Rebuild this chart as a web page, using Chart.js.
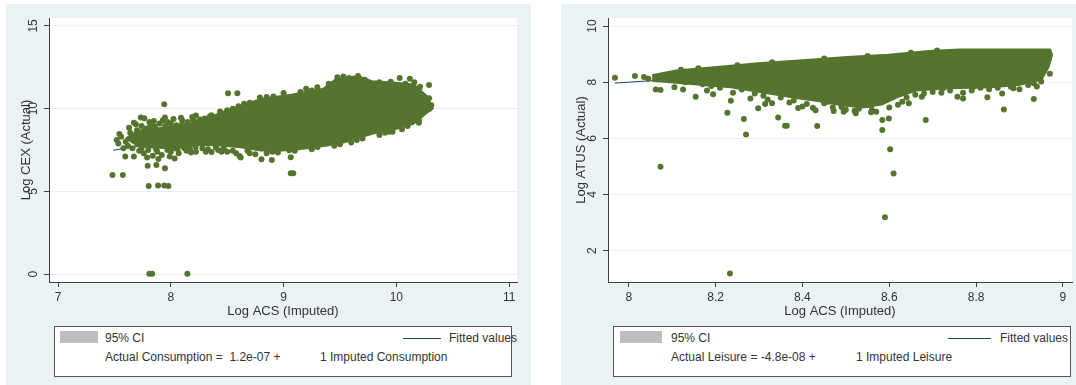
<!DOCTYPE html>
<html>
<head>
<meta charset="utf-8">
<script src="https://cdn.jsdelivr.net/npm/chart.js@4.4.1/dist/chart.umd.min.js"></script>
<style>
  body { margin:0; width:1076px; height:385px; background:#fff; position:relative; overflow:hidden;
         font-family:"Liberation Sans", Arial, sans-serif; }
  .panel { position:absolute; top:4px; height:381px; background:#eaf2f3; }
  canvas { position:absolute; top:4px; }
  .leg { position:absolute; top:326px; height:49px; border:1px solid #555; background:#fff; box-sizing:content-box; }
  .txt { position:absolute; font-size:12px; line-height:14px; color:#333; white-space:pre; }
  .sw { position:absolute; top:331px; height:12px; background:#bebebe; }
  .ln { position:absolute; top:338px; height:1px; background:#1a476f; }
</style>
</head>
<body>
<div class="panel" style="left:6px;width:525px"></div>
<div class="panel" style="left:561px;width:515px"></div>
<canvas id="consChart" width="525" height="320" style="left:6px"></canvas>
<canvas id="leisChart" width="515" height="320" style="left:561px"></canvas>

<div class="leg" style="left:54px;width:456px"></div>
<div class="sw" style="left:60px;width:38px"></div>
<div class="txt" style="left:105px;top:331px">95% CI</div>
<div class="ln" style="left:403px;width:38px"></div>
<div class="txt" style="left:449px;top:331px">Fitted values</div>
<div class="txt" id="consEq1" style="left:105px;top:350px"></div>
<div class="txt" id="consEq2" style="left:320px;top:350px"></div>

<div class="leg" style="left:613px;width:456px"></div>
<div class="sw" style="left:620px;width:42px"></div>
<div class="txt" style="left:671px;top:331px">95% CI</div>
<div class="ln" style="left:948px;width:43px"></div>
<div class="txt" style="left:1000px;top:331px">Fitted values</div>
<div class="txt" id="leisEq1" style="left:671px;top:350px"></div>
<div class="txt" id="leisEq2" style="left:856px;top:350px"></div>

<script>
// consumption panel
const consXTicks = [7, 8, 9, 10, 11];
const consYTicks = [0, 5, 10, 15];
// solid core of the cloud, traced round its outline
const consCloud = [
  [7.6, 8.15], [7.7, 8.6], [7.8, 8.75], [7.9, 8.8], [8.0, 8.9], [8.1, 9.0], [8.2, 9.1], [8.3, 9.3],
  [8.44, 9.72], [8.62, 10.12], [8.8, 10.56], [9.08, 10.83], [9.355, 11.17], [9.462, 11.73], [9.66, 11.94],
  [9.783, 11.63], [10.0, 11.53], [10.15, 11.43], [10.27, 10.73], [10.318, 10.02],
  [10.257, 9.72], [10.15, 9.11], [10.0, 8.81], [9.783, 8.51], [9.538, 8.0], [9.385, 7.8], [9.17, 7.6],
  [8.99, 7.5], [8.8, 7.5], [8.62, 7.7], [8.44, 7.8], [8.25, 7.85], [8.1, 7.7], [7.95, 7.65], [7.8, 7.7], [7.68, 7.8]
];
const consDots = [
  [7.483, 5.99], [7.575, 5.99], [7.804, 5.32], [7.887, 5.36], [7.942, 5.36], [7.979, 5.32],
  [7.81, 0.02], [7.835, 0.02], [8.147, 0.02],
  [7.942, 10.26], [8.508, 10.93], [8.59, 10.93],
  [9.064, 6.09], [9.086, 6.09], [9.064, 7.06],
  [8.804, 6.94], [8.896, 6.9], [8.61, 7.14], [8.62, 7.05],
  [8.034, 6.98], [8.361, 7.38], [8.223, 7.4],
  [7.795, 6.55], [7.872, 6.59], [7.948, 6.39],
  [7.673, 7.1], [7.596, 7.1],
  [7.544, 8.47], [7.535, 7.9], [7.52, 8.1],
  [7.673, 9.15], [7.734, 9.46], [7.765, 9.42],
  [7.948, 9.46], [8.024, 9.38], [8.1, 9.31], [8.223, 9.58], [8.346, 9.52], [8.437, 9.82],
  [9.966, 8.61], [9.935, 8.61],
  [9.477, 11.9], [9.53, 11.95], [9.66, 11.98], [10.03, 11.85],
  [10.12, 11.81], [10.16, 11.6], [10.21, 11.33], [10.29, 11.43],
  [10.29, 10.63], [10.29, 9.98],
  [8.79, 10.67], [8.91, 10.73],
  [7.56, 8.3], [7.6, 8.0], [7.62, 7.75], [7.64, 8.55], [7.66, 7.6], [7.7, 8.7], [7.72, 7.45], [7.74, 8.95],
  [7.76, 7.3], [7.78, 8.8], [7.8, 7.5], [7.82, 9.0], [7.84, 7.15], [7.86, 8.9], [7.88, 7.4], [7.9, 9.1],
  [7.92, 7.2], [7.95, 8.95], [7.97, 7.5], [8.0, 9.1], [8.02, 7.6], [8.05, 9.0], [8.07, 7.3], [8.1, 9.05],
  [8.12, 7.6], [8.15, 9.2], [8.17, 7.55], [8.2, 9.3], [8.22, 7.7], [8.26, 9.35], [8.28, 7.6], [8.3, 9.4],
  [8.33, 7.55], [8.36, 9.6], [8.4, 7.65], [8.42, 7.5], [8.47, 7.6], [8.5, 7.4], [8.55, 7.45], [8.55, 10.0],
  [8.58, 7.3], [8.65, 10.3], [8.7, 7.3], [8.75, 7.25], [8.85, 7.3], [8.95, 7.35], [9.0, 10.95], [9.1, 7.45],
  [9.2, 11.2], [9.25, 7.55], [9.3, 11.3], [9.45, 7.75], [9.6, 7.95], [9.7, 8.2], [9.85, 8.4], [10.1, 8.95], [10.2, 9.3],
  [7.58, 7.6], [7.63, 8.85], [7.68, 8.2], [7.71, 7.9], [7.75, 8.35], [7.79, 7.05], [7.83, 8.35], [7.85, 9.25],
  [7.89, 6.95], [7.93, 9.3], [7.99, 7.1], [8.03, 8.3], [8.06, 7.55], [8.13, 8.95], [8.18, 7.35], [8.24, 9.2],
  [8.31, 7.4], [8.39, 9.35], [8.45, 7.4], [8.5, 9.9], [8.6, 10.15], [8.7, 10.35], [8.85, 10.7], [9.15, 11.0],
  [9.25, 11.1], [9.4, 11.5], [9.58, 11.85], [9.72, 11.75], [9.85, 11.6], [9.95, 11.62], [10.08, 11.5],
  [10.2, 11.1], [10.25, 10.4], [10.31, 10.2], [8.68, 7.45], [8.9, 7.4], [9.05, 7.48], [9.3, 7.68],
  [9.5, 7.85], [9.65, 8.1], [9.9, 8.55], [10.05, 8.75], [10.2, 9.15],
  [7.69, 9.05], [7.81, 9.2], [7.97, 9.2], [8.09, 9.45], [8.19, 9.5], [7.74, 7.6], [7.87, 7.55], [8.0, 7.4], [8.14, 7.45]
];
const consFit = [[7.49, 7.49], [10.31, 10.31]];

// leisure panel
const leisXTicks = [8, 8.2, 8.4, 8.6, 8.8, 9];
const leisYTicks = [2, 4, 6, 8, 10];
const leisCloud = [
  [8.054, 8.23], [8.109, 8.4], [8.203, 8.52], [8.298, 8.66], [8.401, 8.76], [8.503, 8.88], [8.598, 8.96],
  [8.692, 9.09], [8.763, 9.15], [8.97, 9.15], [8.974, 8.97], [8.966, 8.55], [8.95, 8.1],
  [8.897, 7.92], [8.834, 7.84], [8.74, 7.8], [8.661, 7.72], [8.621, 7.5], [8.582, 7.22], [8.543, 7.12],
  [8.487, 7.2], [8.44, 7.34], [8.393, 7.44], [8.345, 7.56], [8.298, 7.68], [8.235, 7.84], [8.172, 7.92],
  [8.109, 8.0], [8.054, 8.07]
];
const leisDots = [
  [7.968, 8.16], [8.014, 8.22], [8.035, 8.18], [8.045, 8.12], [8.062, 7.74], [8.073, 7.72], [8.09, 8.2],
  [8.105, 7.82], [8.125, 7.74], [8.154, 7.48], [8.194, 7.57], [8.227, 6.91], [8.235, 7.34], [8.265, 6.69],
  [8.27, 6.14], [8.298, 7.07], [8.314, 7.22], [8.33, 7.25], [8.344, 6.74], [8.36, 6.45], [8.364, 6.45],
  [8.4, 7.13], [8.424, 7.09], [8.434, 6.44], [8.472, 6.97], [8.495, 6.95], [8.523, 6.89], [8.558, 6.93],
  [8.584, 6.65], [8.584, 6.3], [8.599, 6.71], [8.602, 5.61], [8.61, 4.75], [8.59, 3.19], [8.073, 4.99],
  [8.233, 1.19], [8.645, 7.25], [8.675, 7.48], [8.684, 6.65], [8.757, 7.48], [8.77, 7.42], [8.826, 7.46],
  [8.85, 7.8], [8.864, 7.03], [8.86, 7.6], [8.886, 7.78], [8.933, 7.4], [8.933, 7.96], [8.795, 7.84],
  [8.724, 7.78], [8.55, 7.19],
  [8.13, 8.0], [8.17, 7.93], [8.19, 7.86], [8.21, 7.8], [8.26, 7.74], [8.29, 7.6], [8.31, 7.52], [8.35, 7.45],
  [8.38, 7.35], [8.41, 7.22], [8.45, 7.25], [8.47, 7.1], [8.5, 7.02], [8.52, 6.98], [8.56, 7.02], [8.6, 7.1],
  [8.63, 7.3], [8.66, 7.55], [8.7, 7.65], [8.74, 7.7], [8.79, 7.7], [8.83, 7.75], [8.88, 7.84], [8.92, 7.9], [8.95, 8.02],
  [8.12, 8.44], [8.16, 8.5], [8.25, 8.6], [8.33, 8.71], [8.45, 8.84], [8.55, 8.93], [8.65, 9.05], [8.71, 9.13],
  [8.18, 7.7], [8.24, 7.62], [8.28, 7.42], [8.32, 7.38], [8.37, 7.28], [8.39, 7.08], [8.43, 7.0], [8.46, 7.3],
  [8.49, 7.12], [8.53, 7.05], [8.57, 6.95], [8.62, 7.2], [8.64, 7.45], [8.68, 7.6], [8.72, 7.62], [8.77, 7.62],
  [8.81, 7.8], [8.9, 7.75], [8.94, 7.85], [8.97, 8.3]
];
const leisFit = [[7.968, 7.968], [8.972, 8.972]];

const consEquation = ['Actual Consumption =  1.2e-07 +', '1 Imputed Consumption'];
const leisEquation = ['Actual Leisure = -4.8e-08 +', '1 Imputed Leisure'];

const GREEN = '#55752f';
const NAVY = '#1a476f';
const AXIS = '#404040';
const TXT = '#333333';
const GRID = '#e8eff1';
const FONT = '"Liberation Sans", Arial, sans-serif';

document.getElementById('consEq1').textContent = consEquation[0];
document.getElementById('consEq2').textContent = consEquation[1];
document.getElementById('leisEq1').textContent = leisEquation[0];
document.getElementById('leisEq2').textContent = leisEquation[1];

const plotBg = {
  id: 'plotBg',
  beforeDraw(chart) {
    const { ctx, chartArea: a } = chart;
    ctx.save();
    ctx.fillStyle = '#fff';
    ctx.fillRect(a.left, a.top, a.right - a.left, a.bottom - a.top);
    ctx.restore();
  }
};

const toXY = pts => pts.map(p => ({ x: p[0], y: p[1] }));

function grafico(id, o) {
  return new Chart(document.getElementById(id), {
    type: 'scatter',
    data: {
      datasets: [
        { data: toXY(o.dots), pointRadius: 3, pointBackgroundColor: GREEN, pointBorderWidth: 0 },
        { data: toXY(o.cloud), showLine: true, fill: 'shape', backgroundColor: GREEN, borderColor: GREEN,
          borderWidth: 3, borderJoinStyle: 'round', pointRadius: 0, tension: 0 },
        { data: toXY(o.fit), showLine: true, borderColor: NAVY, borderWidth: 1, pointRadius: 0 }
      ]
    },
    options: {
      responsive: false,
      animation: false,
      layout: { padding: { top: 14, right: o.padRight, left: 0, bottom: 0 } },
      plugins: { legend: { display: false }, tooltip: { enabled: false } },
      scales: {
        x: {
          type: 'linear', min: o.xMin, max: o.xMax,
          afterBuildTicks: s => { s.ticks = o.xTicks.map(v => ({ value: v })); },
          afterFit: s => { s.height = 42; },
          grid: { drawOnChartArea: false, tickLength: 5, tickColor: AXIS },
          border: { color: AXIS },
          ticks: { font: { size: 12, family: FONT }, color: TXT, padding: 3, autoSkip: false, maxRotation: 0,
                   callback: v => String(v) },
          title: { display: true, text: 'Log ACS (Imputed)', font: { size: 13, family: FONT }, color: TXT,
                   padding: { top: 0, bottom: 5 } }
        },
        y: {
          type: 'linear', min: o.yMin, max: o.yMax,
          afterBuildTicks: s => { s.ticks = o.yTicks.map(v => ({ value: v })); },
          afterFit: s => { s.width = o.yWidth; },
          grid: { color: GRID, tickLength: 5, tickColor: AXIS },
          border: { color: AXIS },
          ticks: { font: { size: 12, family: FONT }, color: TXT, padding: 4, autoSkip: false,
                   minRotation: 90, maxRotation: 90, crossAlign: 'center', callback: v => String(v) },
          title: { display: true, text: o.yTitle, font: { size: 13, family: FONT }, color: TXT,
                   padding: { top: 13, bottom: 0 } }
        }
      }
    },
    plugins: [plotBg]
  });
}

grafico('consChart', {
  dots: consDots, cloud: consCloud, fit: consFit,
  xTicks: consXTicks, yTicks: consYTicks,
  xMin: 6.92, xMax: 11.07, yMin: -0.48, yMax: 15.48,
  yWidth: 43, padRight: 14, yTitle: 'Log CEX (Actual)'
});

grafico('leisChart', {
  dots: leisDots, cloud: leisCloud, fit: leisFit,
  xTicks: leisXTicks, yTicks: leisYTicks,
  xMin: 7.952, xMax: 9.021, yMin: 0.885, yMax: 10.285,
  yWidth: 47, padRight: 4, yTitle: 'Log ATUS (Actual)'
});
</script>
</body>
</html>
